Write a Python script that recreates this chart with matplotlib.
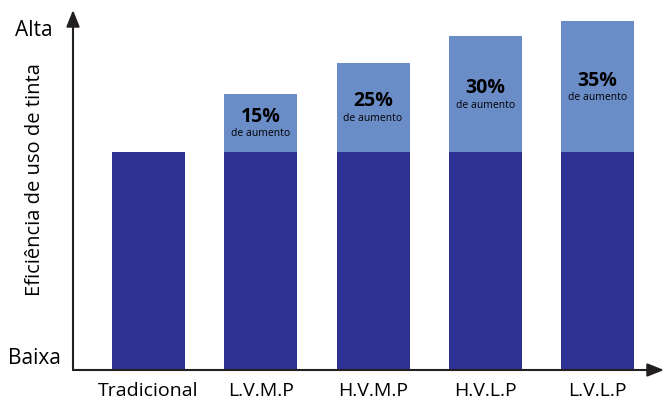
import matplotlib.pyplot as plt

plt.rcParams['font.family'] = ['Open Sans', 'DejaVu Sans']

categories = ["Tradicional", "L.V.M.P", "H.V.M.P", "H.V.L.P", "L.V.L.P"]
base = [218, 218, 218, 218, 218]
total = [218, 276, 307, 334, 349]
increase_pct = [None, "15%", "25%", "30%", "35%"]

dark = "#2E3192"
light = "#6A8DC8"

fig = plt.figure(figsize=(6.64, 4.01), dpi=100)
ax = fig.add_axes([73 / 664, 31 / 401, 591 / 664, 360 / 401])

x = list(range(len(categories)))
extra = [t - b for t, b in zip(total, base)]
ax.bar(x, base, width=0.65, color=dark)
ax.bar(x, extra, bottom=base, width=0.65, color=light)

for i, p in enumerate(increase_pct):
    if p is None:
        continue
    mid = (base[i] + total[i]) / 2
    ax.text(i, mid + 6, p, ha="center", va="center", fontsize=14,
            fontweight="bold", color="black")
    ax.text(i, mid - 11, "de aumento", ha="center", va="center",
            fontsize=7.5, color="black")

ax.set_xlim(-0.672, 4.59)
ax.set_ylim(0, 360)

for s in ax.spines.values():
    s.set_visible(False)

# axis arrows
ax.annotate("", xy=(0, 1), xytext=(0, 0), xycoords="axes fraction",
            arrowprops=dict(arrowstyle="-|>,head_width=0.4,head_length=1.0",
                            color="#231F20", lw=1.5, shrinkA=0, shrinkB=0))
ax.annotate("", xy=(1, 0), xytext=(0, 0), xycoords="axes fraction",
            arrowprops=dict(arrowstyle="-|>,head_width=0.4,head_length=1.0",
                            color="#231F20", lw=1.5, shrinkA=0, shrinkB=0))

ax.set_xticks(x)
ax.set_xticklabels(categories, fontsize=14)
ax.tick_params(axis="x", length=0, pad=9)
ax.set_yticks([])

ax.text(-0.066, 340 / 360, "Alta", transform=ax.transAxes, ha="center",
        va="center", fontsize=15)
ax.text(-0.066, 12 / 360, "Baixa", transform=ax.transAxes, ha="center",
        va="center", fontsize=15)
ax.text(-0.064, 0.528, "Eficiência de uso de tinta", transform=ax.transAxes,
        rotation=90, ha="center", va="center", fontsize=14.5)

fig.savefig("out.png", dpi=100)
